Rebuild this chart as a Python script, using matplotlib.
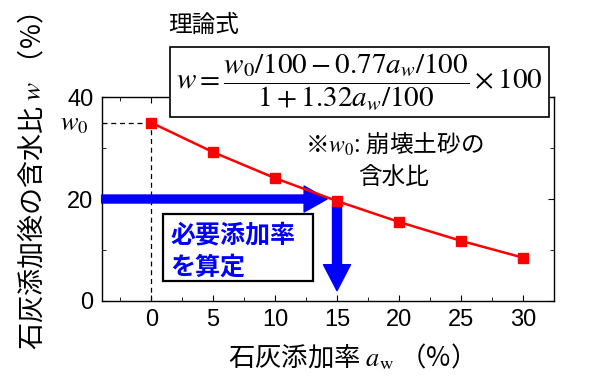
import matplotlib
matplotlib.use('Agg')
import matplotlib.pyplot as plt
from matplotlib.patches import Rectangle, FancyArrowPatch, ArrowStyle

plt.rcParams['font.family'] = ['Noto Sans CJK JP', 'DejaVu Sans']
plt.rcParams['mathtext.fontset'] = 'stix'

# data
lime_rate = [0, 5, 10, 15, 20, 25, 30]                 # a_w (%)
water_content = [35.0, 29.2, 24.1, 19.6, 15.5, 11.8, 8.5]  # w (%)
w0 = 35.0
target_w = 20
target_rate = 15
x_ticks = [0, 5, 10, 15, 20, 25, 30]
y_ticks = [0, 20, 40]

fig = plt.figure(figsize=(6.16, 3.78), dpi=100)
ax = fig.add_axes([0.165, 0.204, 0.734, 0.539])

ax.plot(lime_rate, water_content, color='red', lw=1.8, marker='s',
        markersize=7.5, zorder=5)

# dashed guides for w0
ax.plot([-4, 0], [w0, w0], ls=(0, (4, 3)), color='black', lw=0.9)
ax.plot([0, 0], [0, w0], ls=(0, (4, 3)), color='black', lw=0.9)

# blue arrows
pt = 100 / 72
hstyle = ArrowStyle.Simple(head_length=23 / pt, head_width=26 / pt, tail_width=8 / pt)
ax.add_patch(FancyArrowPatch((-4, target_w), (14.2, target_w), arrowstyle=hstyle,
                             mutation_scale=1, color='blue', shrinkA=0, shrinkB=0,
                             zorder=3, clip_on=False))
vstyle = ArrowStyle.Simple(head_length=26 / pt, head_width=27 / pt, tail_width=9 / pt)
ax.add_patch(FancyArrowPatch((target_rate, 18.6), (target_rate, 2.0), arrowstyle=vstyle,
                             mutation_scale=1, color='blue', shrinkA=0, shrinkB=0,
                             zorder=3))

# boxed note
ax.add_patch(Rectangle((0.93, 3.9), 12.17, 13.2, facecolor='white',
                       edgecolor='black', lw=1.6, zorder=4))
ax.text(1.55, 12.9, '必要添加率', color='blue', fontsize=18, fontweight='bold',
        va='center', ha='left', zorder=6)
ax.text(1.55, 6.6, 'を算定', color='blue', fontsize=18, fontweight='bold',
        va='center', ha='left', zorder=6)

ax.text(19.6, 27.8, r'※$w_0$: 崩壊土砂の' + '\n含水比', fontsize=17, ha='center',
        va='center', linespacing=1.4, zorder=6)

ax.set_xlim(-4, 32)
ax.set_ylim(0, 40)
ax.set_xticks(x_ticks)
ax.set_xticks([v + 2.5 for v in [-5] + x_ticks], minor=True)
ax.set_yticks(y_ticks)
ax.set_yticks([10, 30], minor=True)
ax.tick_params(which='both', direction='in', top=True, right=True, labelsize=17)
ax.tick_params(axis='x', pad=6)
ax.tick_params(axis='y', pad=6)
ax.tick_params(which='major', length=4)
ax.tick_params(which='minor', length=3)
for lab in ax.get_xticklabels() + ax.get_yticklabels():
    lab.set_family(['Liberation Sans', 'DejaVu Sans'])
for s in ax.spines.values():
    s.set_linewidth(1.0)

# w0 label on the y axis
ax.annotate(r'$w_0$', xy=(0, w0), xycoords=('axes fraction', 'data'),
            xytext=(-13.5 / (100 / 72), 0), textcoords='offset points',
            ha='right', va='center', fontsize=19)

ax.set_xlabel(r'石灰添加率 $a_{\mathrm{w}}$ （%）', fontsize=19)
ax.set_ylabel(r'石灰添加後の含水比 $w$ （%）', fontsize=19.5)
ax.xaxis.set_label_coords(0.536, -0.2)
ax.yaxis.set_label_coords(-0.119, 0.585)

# formula box above the axes
fig.patches.append(Rectangle((169.7 / 616, 1 - 117.3 / 378), 379.6 / 616, 70.6 / 378,
                             transform=fig.transFigure, facecolor='white',
                             edgecolor='black', lw=1.2, zorder=3, figure=fig))
fig.text(359.5 / 616, 1 - 82 / 378,
         r'$w = \dfrac{w_0/100 - 0.77a_w/100}{1 + 1.32a_w/100} \times 100$',
         fontsize=21, ha='center', va='center', zorder=4)
fig.text(204 / 616, 1 - 25 / 378, '理論式', fontsize=17, ha='center', va='center')

fig.savefig('out.png', dpi=100)
